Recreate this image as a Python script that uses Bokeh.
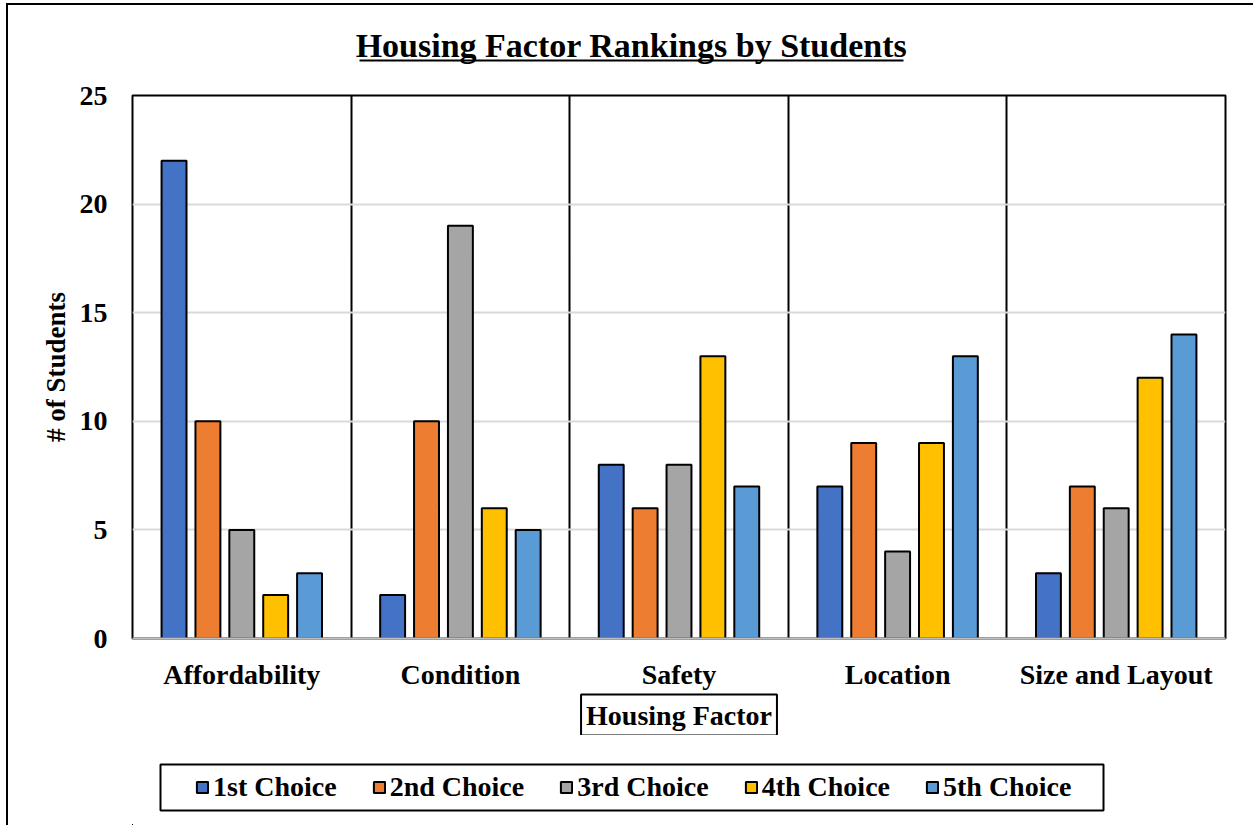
from bokeh.plotting import figure
from bokeh.layouts import column
from bokeh.models import (ColumnDataSource, Range1d, FixedTicker, Legend, LegendItem,
                          Label, BoxAnnotation, Title)
from bokeh.embed import file_html
from bokeh.resources import INLINE

# ---- data ----
categories = ["Affordability", "Condition", "Safety", "Location", "Size and Layout"]
series_names = ["1st Choice", "2nd Choice", "3rd Choice", "4th Choice", "5th Choice"]
first_choice = [22, 2, 8, 7, 3]
second_choice = [10, 10, 6, 9, 7]
third_choice = [5, 19, 8, 4, 6]
fourth_choice = [2, 6, 13, 9, 12]
fifth_choice = [3, 5, 7, 13, 14]
y_ticks = [0, 5, 10, 15, 20, 25]

series_values = [first_choice, second_choice, third_choice, fourth_choice, fifth_choice]
colors = ["#4472C4", "#ED7D31", "#A5A5A5", "#FFC000", "#5B9BD5"]

FONT = "Liberation Serif"
n = len(categories)
pitch = 0.155
bar_w = 0.114
W = 1245


def blank_fig(height):
    # ranges lie far away from any data, so nothing of the data shows in these strips
    f = figure(width=W, height=height, output_backend="svg", toolbar_location=None,
               x_axis_type=None, y_axis_type=None,
               x_range=Range1d(100, 101), y_range=Range1d(100, 101),
               min_border=0, title_location=None)
    f.outline_line_color = None
    f.background_fill_color = "white"
    f.border_fill_color = "white"
    f.grid.visible = False
    return f


# ---- top: chart title with underline (frame is aligned with the main plot) ----
top = blank_fig(72)
top.add_layout(Label(x=499, y=32, x_units="screen", y_units="screen",
                     text="Housing Factor Rankings by Students", text_align="center",
                     text_baseline="middle", text_font=FONT, text_font_style="bold",
                     text_font_size="34px", text_color="black"))
top.add_layout(BoxAnnotation(left=227, right=771, top=18, bottom=16,
                             left_units="screen", right_units="screen",
                             top_units="screen", bottom_units="screen",
                             fill_color="black", fill_alpha=1, line_color=None))

# ---- main plot ----
p = figure(width=W, height=658, output_backend="svg", toolbar_location=None,
           x_range=Range1d(0, n), y_range=Range1d(0, 25), title_location=None,
           min_border_left=124, min_border_right=28, min_border_top=18, min_border_bottom=92)
p.background_fill_color = "white"
p.border_fill_color = "white"
p.outline_line_color = "black"
p.outline_line_width = 2

sources = []
for j, (name, vals) in enumerate(zip(series_names, series_values)):
    xs = [i + 0.5 + (j - 2) * pitch for i in range(n)]
    src = ColumnDataSource(dict(x=xs, top=vals, cat=categories))
    sources.append(src)
    p.vbar(x="x", top="top", width=bar_w, bottom=0, source=src,
           fill_color=colors[j], line_color="black", line_width=2)

p.xaxis.ticker = FixedTicker(ticks=[i + 0.5 for i in range(n)])
p.xaxis.major_label_overrides = {i + 0.5: c for i, c in enumerate(categories)}
p.xaxis.major_label_text_font = FONT
p.xaxis.major_label_text_font_style = "bold"
p.xaxis.major_label_text_font_size = "28px"
p.xaxis.major_label_text_color = "black"
p.xaxis.major_tick_line_color = None
p.xaxis.minor_tick_line_color = None
p.xaxis.axis_line_color = "#BFBFBF"
p.xaxis.axis_line_width = 2
p.xaxis.major_label_standoff = 14

p.yaxis.ticker = FixedTicker(ticks=y_ticks)
p.yaxis.major_label_text_font = FONT
p.yaxis.major_label_text_font_style = "bold"
p.yaxis.major_label_text_font_size = "28px"
p.yaxis.major_label_text_color = "black"
p.yaxis.major_tick_line_color = None
p.yaxis.minor_tick_line_color = None
p.yaxis.axis_line_color = None
p.yaxis.major_label_standoff = 19
p.yaxis.axis_label = "# of Students"
p.yaxis.axis_label_text_font = FONT
p.yaxis.axis_label_text_font_style = "bold"
p.yaxis.axis_label_text_font_size = "27px"
p.yaxis.axis_label_text_color = "black"
p.yaxis.axis_label_standoff = 6

p.ygrid.ticker = FixedTicker(ticks=y_ticks)
p.ygrid.grid_line_color = "#D9D9D9"
p.ygrid.grid_line_width = 2
p.xgrid.ticker = FixedTicker(ticks=[i for i in range(1, n)])
p.xgrid.grid_line_color = "black"
p.xgrid.grid_line_width = 2

xtitle = Title(text="Housing Factor", align="center", text_font=FONT,
               text_font_style="bold", text_font_size="28px", text_color="black",
               border_line_color="black", border_line_width=2, padding=5,
               background_fill_color="white", standoff=0)
p.add_layout(xtitle, "below")

# ---- bottom: legend (frame aligned with the main plot) ----
bottom = blank_fig(90)
bottom.add_layout(BoxAnnotation(left=28, right=971, top=61, bottom=15,
                                left_units="screen", right_units="screen",
                                top_units="screen", bottom_units="screen",
                                fill_color="white", fill_alpha=1,
                                line_color="black", line_alpha=1, line_width=2))
items = []
for j, name in enumerate(series_names):
    r = bottom.vbar(x="x", top="top", width=bar_w, bottom=0, source=sources[j],
                    fill_color=colors[j], line_color="black", line_width=2)
    items.append(LegendItem(label=name, renderers=[r]))
legend = Legend(items=items, orientation="horizontal", location=(63, 22), padding=0,
                margin=0, spacing=35, label_standoff=4, glyph_width=14, glyph_height=14,
                label_text_font=FONT, label_text_font_style="bold",
                label_text_font_size="28px", label_text_color="black",
                border_line_color=None, background_fill_alpha=0)
bottom.add_layout(legend, "center")

layout = column(top, p, bottom, spacing=0)
layout.styles = {"border-left": "2px solid black", "border-top": "2px solid black",
                 "margin-left": "6px", "margin-top": "3px"}

open("out.html", "w").write(file_html(layout, INLINE))
